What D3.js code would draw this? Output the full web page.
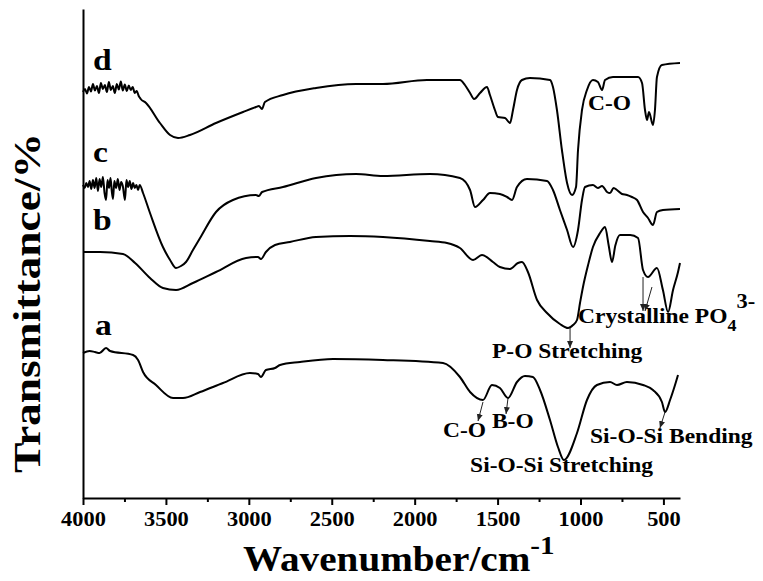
<!DOCTYPE html>
<html>
<head>
<meta charset="utf-8">
<script src="https://cdn.jsdelivr.net/npm/d3@7"></script>
<style>
body { margin: 0; background: #fff; }
svg text { font-family: "Liberation Serif", "Times New Roman", serif; font-weight: bold; fill: #000; }
</style>
</head>
<body>
<svg id="chart" width="763" height="581"></svg>
<script>
// FTIR spectra, [wavenumber (cm-1), transmittance (offset, arb. units)]
const curveD = [
    [4000,81.2],[3988,81.8],[3976,80.9],[3964,82.2],[3952,81.3],[3940,82.8],[3928,81.5],[3916,82.4],
    [3904,81.0],[3892,83.0],[3880,81.8],[3868,82.6],[3856,81.2],[3844,83.2],[3832,81.6],[3820,82.4],
    [3808,81.0],[3796,82.8],[3784,81.7],[3772,83.3],[3760,81.5],[3748,82.7],[3736,81.4],[3724,82.5],
    [3712,81.6],[3700,82.2],[3688,81.0],[3676,81.4],[3664,80.4],[3652,79.8],
    [3620,79.0],[3536,75.0],[3475,72.6],[3427,72.0],[3355,72.6],[3198,75.0],[3035,77.2],[2957,78.2],
    [2939,78.4],[2921,77.8],[2903,79.2],[2794,80.6],[2595,82.0],[2354,82.8],[2191,82.8],[1926,83.6],
    [1757,83.6],[1727,83.6],[1697,82.6],[1666,81.0],[1642,79.8],[1606,81.0],[1564,82.2],[1546,80.6],
    [1516,77.6],[1498,76.2],[1455,76.0],[1425,75.0],[1407,77.6],[1383,81.6],[1353,83.6],[1305,84.0],
    [1184,83.6],[1166,82.2],[1142,77.6],[1112,69.6],[1081,63.0],[1051,60.6],[1027,62.2],[1015,69.6],
    [991,77.6],[961,81.6],[925,83.6],[895,83.2],[870,81.6],[852,83.6],[804,84.2],[653,84.2],
    [629,83.0],[611,77.6],[599,75.6],[587,77.2],[563,74.6],[551,77.6],[539,84.2],[509,86.6],[400,87.0]
];
const curveC = [
    [4000,62.6],[3990,62.0],[3980,63.0],[3970,62.2],[3960,63.4],[3950,61.8],[3940,63.6],[3930,62.0],
    [3920,64.0],[3910,61.4],[3900,63.8],[3890,62.2],[3880,64.2],[3870,61.0],[3861,59.6],[3852,63.6],
    [3843,62.0],[3834,64.0],[3826,61.2],[3819,59.8],[3811,63.4],[3800,62.0],[3790,63.8],[3780,61.6],
    [3770,63.2],[3760,62.4],[3747,59.6],[3738,63.6],[3728,62.2],[3718,63.4],[3708,61.8],[3698,63.0],
    [3688,62.0],[3678,62.6],[3668,61.6],[3658,62.6],[3638,61.0],[3596,57.0],[3518,50.2],[3475,47.6],
    [3439,46.0],[3409,46.4],[3379,47.2],[3337,49.6],[3294,52.0],[3198,57.2],[3096,59.6],[2957,60.6],
    [2940,60.4],[2920,61.2],[2794,62.2],[2595,64.0],[2354,64.8],[2191,64.4],[1908,64.8],[1727,64.0],
    [1666,61.6],[1636,58.2],[1588,59.6],[1546,61.0],[1486,60.8],[1443,60.2],[1413,59.6],[1383,62.2],
    [1323,63.8],[1202,63.4],[1166,61.6],[1124,57.6],[1081,53.6],[1045,50.2],[1015,53.6],[991,59.6],
    [973,62.2],[925,62.6],[895,62.0],[870,62.4],[840,61.2],[822,61.0],[800,62.0],[780,61.6],
    [750,60.8],[720,60.6],[690,60.2],[659,59.6],[623,57.2],[593,56.0],[563,54.6],[539,57.2],
    [503,57.6],[400,57.8]
];
const curveB = [
    [4000,49.2],[3897,49.2],[3759,48.8],[3686,47.0],[3596,44.0],[3518,42.0],[3439,41.6],[3337,43.0],
    [3198,45.2],[3017,48.0],[2945,48.2],[2927,47.8],[2897,49.2],[2842,50.6],[2752,51.2],[2595,52.2],
    [2390,52.4],[2191,52.2],[1908,51.4],[1805,51.0],[1727,50.0],[1648,47.6],[1594,48.6],[1528,47.2],
    [1486,46.2],[1425,45.8],[1377,47.0],[1353,47.2],[1317,45.2],[1262,39.6],[1202,37.0],[1124,34.8],
    [1075,34.0],[1045,34.6],[1021,35.6],[1003,39.0],[985,42.2],[955,46.5],[925,50.2],[882,53.0],
    [852,54.2],[830,50.5],[810,47.2],[790,50.5],[762,52.6],[700,52.6],[653,52.0],[623,45.6],
    [593,44.2],[539,46.0],[503,41.6],[472,37.2],[442,41.6],[412,45.2],[400,47.0]
];
const curveA = [
    [4000,29.0],[3960,29.4],[3928,29.2],[3900,29.0],[3861,30.0],[3837,29.4],[3698,28.6],[3668,27.6],
    [3638,25.2],[3560,22.6],[3457,20.0],[3397,20.0],[3294,21.2],[3156,23.0],[2993,25.0],[2945,24.8],
    [2927,24.2],[2897,25.6],[2842,26.0],[2812,26.6],[2691,27.2],[2492,27.8],[2191,27.6],[1829,27.0],
    [1727,24.2],[1666,21.2],[1588,19.6],[1534,22.6],[1486,22.0],[1437,20.0],[1383,23.2],[1335,24.4],
    [1287,24.2],[1244,21.6],[1184,15.6],[1136,10.2],[1100,7.6],[1021,13.0],[961,19.6],[901,22.6],
    [822,23.2],[780,22.6],[720,23.2],[623,22.6],[563,21.6],[509,19.2],[490,17.2],[460,19.6],
    [430,22.6],[412,24.6]
];
const curves = [curveA, curveB, curveC, curveD];

const majorTicks = [4000, 3500, 3000, 2500, 2000, 1500, 1000, 500];
const minorTicks = [3750, 3250, 2750, 2250, 1750, 1250, 750];

// sample letters and band assignments, anchored in data units
const curveNames = [["a", 3928, 32.6], ["b", 3940, 53.6], ["c", 3940, 67.2], ["d", 3940, 85.6]];
const bandNames = [
    ["C-O", 955, 77.6],
    ["P-O Stretching", 1534, 28.0],
    ["C-O", 1829, 12.2],
    ["B-O", 1534, 14.0],
    ["Si-O-Si Bending", 943, 11.0],
    ["Si-O-Si Stretching", 1666, 5.2]
];
// arrows: [from w, from T, to w, to T]
const arrows = [
    [1063, 34.0, 1063, 30.0],
    [623, 44.2, 623, 37.4],
    [569, 42.2, 611, 37.4],
    [1588, 19.2, 1618, 15.4],
    [1437, 20.0, 1449, 16.8],
    [490, 17.2, 521, 14.0]
];

const svg = d3.select("#chart");
const x = d3.scaleLinear().domain([4000, 400]).range([83, 680]);
const y = d3.scaleLinear().domain([0, 97.8]).range([498, 9]);
const sx = 1.12; // the scanned figure is a bit wider than tall

// arrowhead
svg.append("defs").append("marker")
    .attr("id", "head")
    .attr("markerUnits", "userSpaceOnUse")
    .attr("markerWidth", 8).attr("markerHeight", 8)
    .attr("refX", 7).attr("refY", 3)
    .attr("orient", "auto")
    .append("path")
    .attr("d", "M0,0 L7,3 L0,6 Z")
    .attr("fill", "#222");

// spectra
const line = d3.line()
    .x(d => x(d[0]))
    .y(d => y(d[1]))
    .curve(d3.curveMonotoneX);

svg.selectAll(".spec")
    .data(curves)
    .enter().append("path")
    .attr("class", "spec")
    .attr("d", line)
    .attr("fill", "none")
    .attr("stroke", "#000")
    .attr("stroke-width", 2)
    .attr("stroke-linejoin", "round");

// axes
const xAxis = svg.append("g")
    .attr("transform", `translate(0, ${y(0)})`)
    .call(d3.axisBottom(x).tickValues(majorTicks).tickSize(7).tickSizeOuter(0).tickFormat(d3.format("d")));
xAxis.select(".domain").attr("stroke-width", 2);
xAxis.selectAll(".tick line").attr("stroke-width", 2);
xAxis.selectAll(".tick text")
    .attr("y", 28).attr("dy", null)
    .attr("font-size", 20)
    .attr("font-family", "Liberation Serif")
    .attr("font-weight", "bold")
    .attr("transform", `scale(${sx},1)`);

const xMinor = svg.append("g")
    .attr("transform", `translate(0, ${y(0)})`)
    .call(d3.axisBottom(x).tickValues(minorTicks).tickSize(4).tickSizeOuter(0).tickFormat(""));
xMinor.select(".domain").remove();
xMinor.selectAll(".tick line").attr("stroke-width", 2);

const yAxis = svg.append("g")
    .attr("transform", `translate(${x(4000)}, 0)`)
    .call(d3.axisLeft(y).tickValues([]).tickSizeOuter(0));
yAxis.select(".domain").attr("stroke-width", 2);

// stretched text helper
function label(str, px, py, size) {
    return svg.append("g")
        .attr("transform", `translate(${px},${py}) scale(${sx},1)`)
        .append("text")
        .attr("font-size", size)
        .text(str);
}

curveNames.forEach(d => label(d[0], x(d[1]), y(d[2]), 30));
bandNames.forEach(d => label(d[0], x(d[1]), y(d[2]), 21));

const po4 = label("Crystalline PO", x(1015), y(35.0), 21);
po4.append("tspan").attr("dy", 8).attr("font-size", 16).text("4");
po4.append("tspan").attr("dy", -23).attr("font-size", 20).text("3-");

svg.selectAll(".arrow")
    .data(arrows)
    .enter().append("line")
    .attr("class", "arrow")
    .attr("x1", d => x(d[0])).attr("y1", d => y(d[1]))
    .attr("x2", d => x(d[2])).attr("y2", d => y(d[3]))
    .attr("stroke", "#222")
    .attr("stroke-width", 1)
    .attr("marker-end", "url(#head)");

// axis titles
const xTitle = label("Wavenumber/cm", 243, 571, 35);
xTitle.append("tspan").attr("dy", -17).attr("font-size", 26).text("-1");

svg.append("text")
    .attr("transform", "translate(40, 303) rotate(-90)")
    .attr("text-anchor", "middle")
    .attr("font-size", 38)
    .attr("textLength", 340)
    .attr("lengthAdjust", "spacingAndGlyphs")
    .text("Transmittance/%");
</script>
</body>
</html>
